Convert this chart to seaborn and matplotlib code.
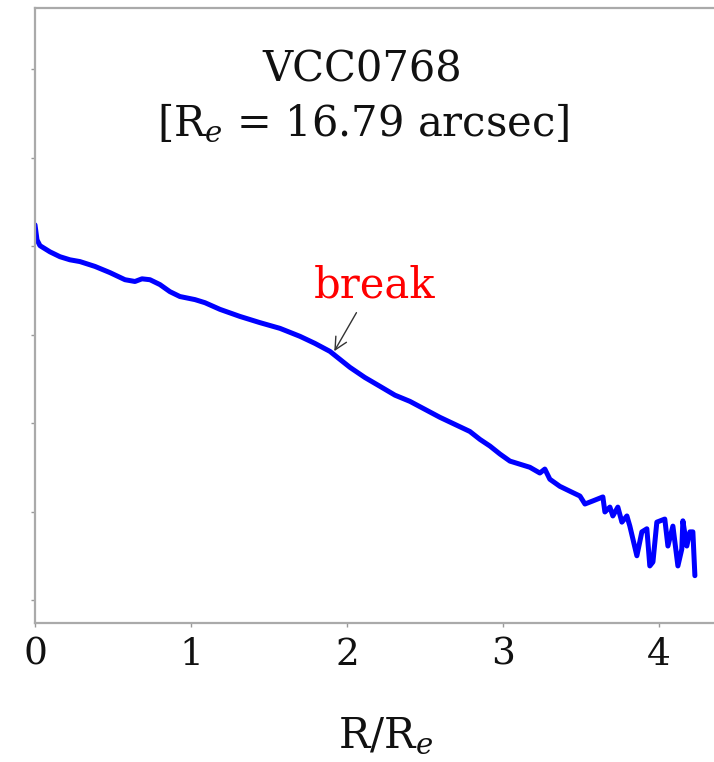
import numpy as np
import pandas as pd
import matplotlib
matplotlib.use("Agg")
import matplotlib.pyplot as plt
import seaborn as sns

# radial profile (R/Re, surface brightness)
r_norm = [0.000, 0.013, 0.032, 0.096, 0.160, 0.224, 0.288, 0.385, 0.481, 0.577,
          0.641, 0.686, 0.737, 0.801, 0.865, 0.929, 1.026, 1.090, 1.186, 1.314,
          1.442, 1.571, 1.699, 1.795, 1.891, 1.955, 2.019, 2.115, 2.212, 2.308,
          2.404, 2.500, 2.596, 2.692, 2.788, 2.853, 2.917, 2.981, 3.045, 3.109,
          3.173, 3.237, 3.269, 3.301, 3.365, 3.429, 3.494, 3.526, 3.577, 3.641,
          3.654, 3.686, 3.705, 3.737, 3.763, 3.795, 3.814, 3.859, 3.891, 3.923,
          3.942, 3.962, 3.987, 4.038, 4.058, 4.090, 4.122, 4.147, 4.154, 4.179,
          4.199, 4.218, 4.231]
mu = [21.52, 21.86, 21.99, 22.13, 22.24, 22.31, 22.35, 22.46, 22.60, 22.76,
      22.80, 22.74, 22.76, 22.87, 23.03, 23.14, 23.21, 23.28, 23.43, 23.59,
      23.73, 23.86, 24.04, 24.20, 24.38, 24.56, 24.74, 24.97, 25.17, 25.37,
      25.51, 25.69, 25.87, 26.03, 26.19, 26.37, 26.52, 26.70, 26.86, 26.93,
      27.00, 27.13, 27.04, 27.27, 27.43, 27.54, 27.65, 27.83, 27.76, 27.67,
      28.01, 27.90, 28.10, 27.90, 28.24, 28.10, 28.33, 29.00, 28.46, 28.39,
      29.23, 29.14, 28.24, 28.17, 28.78, 28.33, 29.23, 28.85, 28.21, 28.78,
      28.46, 28.46, 29.45]

x_ticks = [0, 1, 2, 3, 4]
y_ticks = [18, 20, 22, 24, 26, 28, 30]
galaxy = "VCC0768"
r_e = 16.79
break_r = 1.91
break_mu = 24.43

df = pd.DataFrame({"r": r_norm, "mu": mu})

sns.set_style("white")
plt.rcParams["font.family"] = ["DejaVu Serif"]
plt.rcParams["mathtext.fontset"] = "dejavuserif"

fig = plt.figure(figsize=(7.14, 7.62), dpi=100)
ax = fig.add_axes([0.049, 0.1824, 0.983, 0.807])

sns.lineplot(data=df, x="r", y="mu", ax=ax, color="#0000ff", linewidth=3.6,
             sort=False, estimator=None)

ax.set_xlim(0, 4.5)
ax.set_ylim(30.52, 16.62)
ax.set_xticks(x_ticks)
ax.set_yticks(y_ticks)
ax.set_yticklabels([])
ax.tick_params(axis="x", labelsize=27, length=3, width=1, color="#999999",
               pad=7, direction="out", labelcolor="#111111")
ax.tick_params(axis="y", length=3, width=1, color="#999999", direction="out")
ax.tick_params(left=True, bottom=True)

for s in ax.spines.values():
    s.set_color("#aaaaaa")
    s.set_linewidth(1.6)

ax.set_xlabel(r"R/R$_e$", fontsize=30, labelpad=30, color="#111111")
ax.set_ylabel("")

ax.text(2.1, 18.0, galaxy, fontsize=30, ha="center", va="center",
        color="#111111")
ax.text(2.1, 19.22, f"[R$_e$ = {r_e:.2f} arcsec]", fontsize=30,
        ha="center", va="center", color="#111111")

ax.text(2.18, 22.88, "break", fontsize=30, color="red", ha="center", va="center")
ax.annotate("", xy=(break_r, break_mu), xytext=(2.07, 23.45),
            arrowprops=dict(arrowstyle="->", color="#333333", lw=1.0,
                            mutation_scale=22))

fig.savefig("out.png", dpi=100)
